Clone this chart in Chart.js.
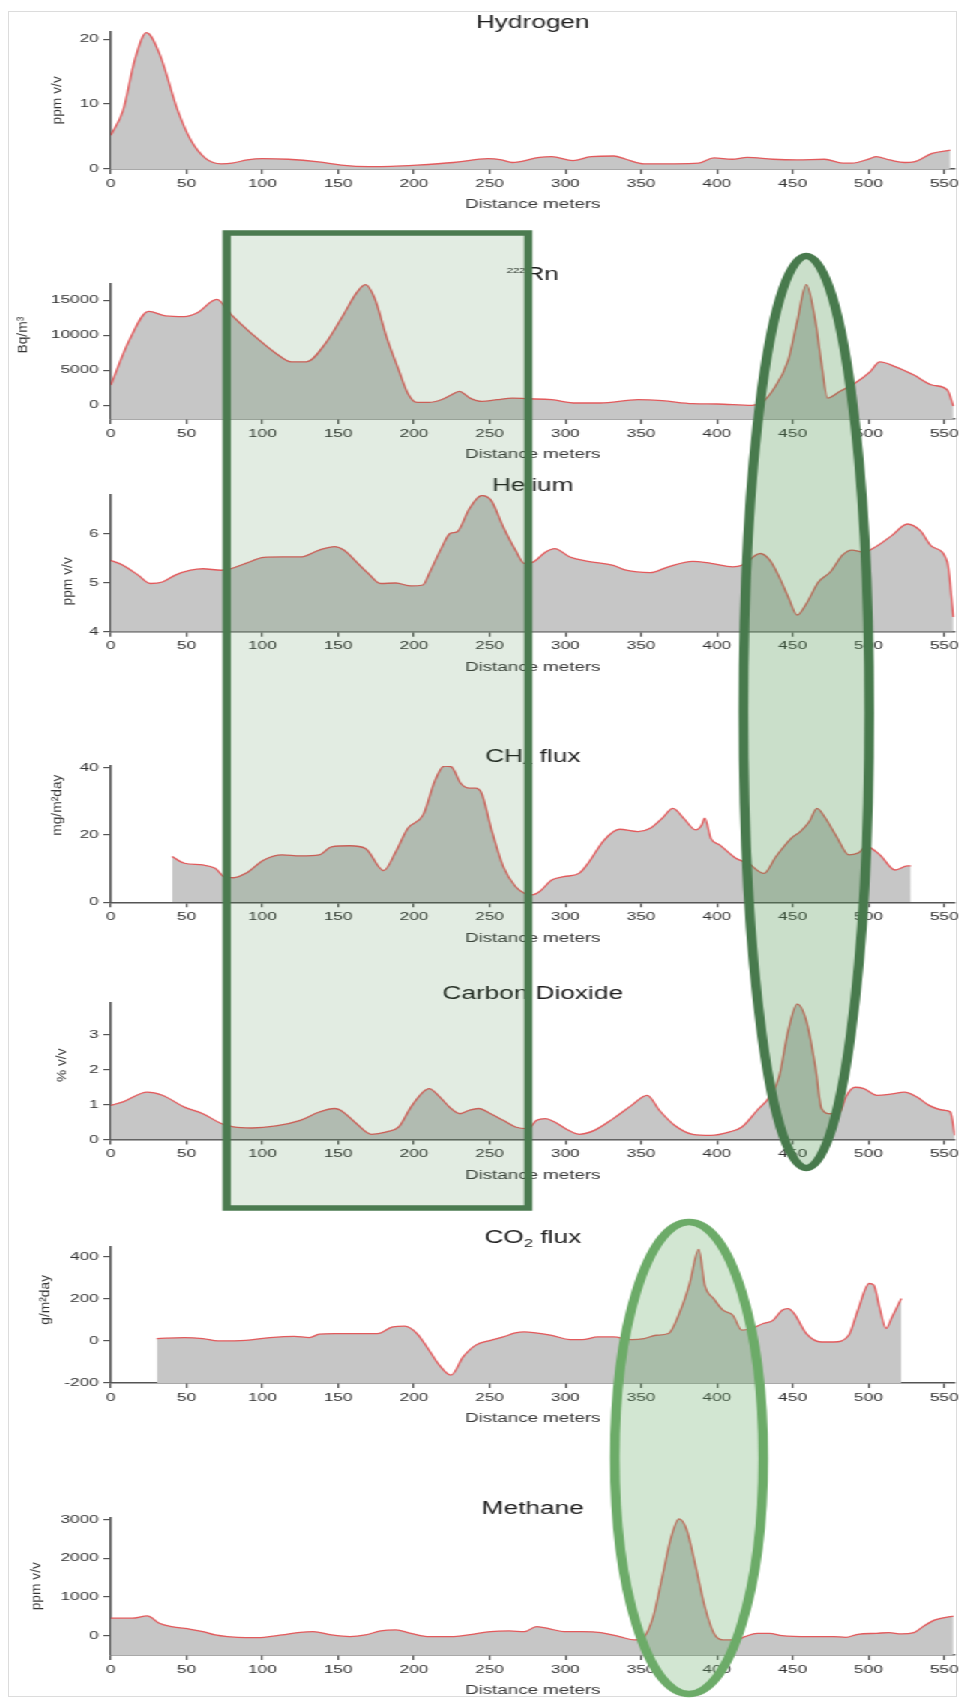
<!DOCTYPE html>
<html>
<head>
<meta charset="utf-8">
<script src="https://cdn.jsdelivr.net/npm/chart.js@4.4.1/dist/chart.umd.min.js"></script>
<style>
  html, body { margin: 0; padding: 0; background: #fff; }
  #page { position: relative; width: 961px; height: 1698px; overflow: hidden; }
  #frame { position: absolute; left: 8px; top: 11px; width: 949px; height: 1686px; border: 1px solid #dcdcdc; box-sizing: border-box; }
  /* the panels are laid out narrow and stretched sideways */
  #stretch { position: absolute; left: 0; top: 0; width: 641px; height: 1698px; transform: scaleX(1.49922); transform-origin: 0 0; }
  #stretch canvas { position: absolute; left: 0; }
</style>
</head>
<body>
<div id="page"><div id="frame"></div><div id="stretch"></div></div>
<script>
const distTicks = [0, 50, 100, 150, 200, 250, 300, 350, 400, 450, 500, 550];

// Hydrogen, ppm v/v
const h2Dist = [0, 8, 16, 23.5, 32, 44, 52.6, 62.7, 72.8, 80, 90, 100, 117, 137, 152, 170, 185, 202, 226, 249, 258, 265, 283, 291, 305, 317, 332, 340, 352, 372, 388, 398, 410, 420, 437, 453, 471, 483, 489, 501, 505, 514, 524, 530, 542, 554];
const h2Ppm = [5.2, 9.0, 17.0, 21.0, 17.8, 9.1, 4.5, 1.6, 0.8, 0.9, 1.4, 1.6, 1.5, 1.1, 0.6, 0.36, 0.4, 0.6, 1.0, 1.6, 1.4, 1.0, 1.8, 1.9, 1.3, 1.9, 2.0, 1.5, 0.8, 0.8, 0.9, 1.7, 1.5, 1.8, 1.5, 1.4, 1.5, 0.9, 0.9, 1.6, 1.9, 1.4, 1.0, 1.1, 2.4, 2.9];
const h2Ticks = [0, 10, 20];

// 222Rn, Bq/m3
const rnDist = [0, 12, 25, 36, 48.5, 57, 70, 79, 93, 109, 119, 129, 141.5, 153.7, 162, 168, 174, 182, 190, 196, 202, 210, 218, 224, 230, 237, 245, 255, 265, 275, 291, 307, 323, 348, 364, 384, 400, 423, 429, 437, 447, 453, 459, 465, 469, 473, 481, 491, 501, 507.5, 518, 530, 542, 552, 556];
const rnBq = [2900, 9200, 13400, 12750, 12650, 13200, 15100, 13000, 10200, 7400, 6200, 6200, 8800, 13000, 16000, 17200, 15300, 9700, 5000, 1700, 420, 420, 800, 1400, 2000, 1030, 560, 800, 1030, 940, 800, 330, 330, 800, 660, 230, 190, 0, 330, 2200, 6400, 12000, 17200, 12000, 5950, 1030, 1970, 3140, 4780, 6190, 5490, 4310, 2900, 2200, -100];
const rnTicks = [0, 5000, 10000, 15000];

// Helium, ppm v/v
const heDist = [0, 8, 18, 26, 34, 42.5, 52.6, 60.7, 72.8, 79, 89, 101, 113, 125, 137.5, 147.6, 153.7, 162, 170, 178, 188, 198, 206, 210, 218, 224, 228.5, 236.6, 244.7, 251, 259, 267, 273, 279, 287, 293, 303, 315, 331.6, 340, 356, 368, 384, 396, 410.5, 416.5, 428.7, 435, 441, 447, 453, 459, 467, 475, 483, 489, 497, 505, 515.6, 525.7, 534, 542, 552, 556];
const hePpm = [5.45, 5.35, 5.15, 4.98, 5.01, 5.15, 5.25, 5.28, 5.25, 5.28, 5.39, 5.51, 5.52, 5.52, 5.66, 5.73, 5.66, 5.42, 5.18, 4.98, 4.99, 4.93, 4.95, 5.18, 5.69, 6.0, 6.03, 6.5, 6.77, 6.67, 6.13, 5.66, 5.39, 5.42, 5.62, 5.69, 5.52, 5.43, 5.35, 5.25, 5.2, 5.32, 5.43, 5.39, 5.32, 5.35, 5.59, 5.45, 5.12, 4.71, 4.34, 4.57, 5.01, 5.22, 5.56, 5.66, 5.62, 5.73, 5.96, 6.19, 6.06, 5.73, 5.42, 4.3];
const heTicks = [4, 5, 6];

// CH4 flux, mg/m2 day
const ch4FluxDist = [40.4, 48.5, 60.7, 68.8, 75, 81, 89, 101, 113, 125, 137.5, 145.6, 157.7, 168, 180, 188, 196, 206, 214, 220, 224.5, 231, 236.6, 240.6, 244.7, 251, 259, 267, 273, 278, 283, 291, 299, 309, 315, 325.6, 335.7, 348, 356, 364, 371, 378, 386, 390, 392, 396, 402, 412.5, 420.6, 431, 439, 449, 455, 461, 466, 471, 479, 487, 493, 499, 507.5, 517.6, 525.7, 528];
const ch4Flux = [13.6, 11.6, 11.1, 10.1, 7.6, 7.3, 8.6, 12.6, 14.1, 13.8, 14.1, 16.5, 16.8, 16.0, 9.4, 15.0, 22, 25.9, 36.3, 40.5, 40.3, 35.3, 33.9, 33.9, 32.4, 22, 10.6, 4.7, 2.7, 2.2, 3.2, 6.6, 7.6, 8.6, 11.6, 18.5, 21.7, 21, 22, 25, 27.9, 25, 21.5, 23, 25, 19, 17, 13.1, 11.6, 8.6, 13.6, 19, 21, 24, 27.9, 25.4, 19.5, 14.1, 14.6, 16.5, 14.1, 9.6, 10.8, 10.8];
const ch4FluxTicks = [0, 20, 40];

// Carbon dioxide, % v/v
const co2Dist = [0, 8, 24, 34, 48.5, 60.7, 72.8, 81, 93, 109, 125, 137.5, 147.6, 151.6, 162, 172, 182, 190, 198, 206, 210, 216, 224.5, 230.5, 236.6, 242.6, 250.7, 259, 267, 275, 281, 287, 293, 301, 309, 319.5, 331.6, 343.7, 354, 362, 372, 384, 396, 408.5, 416.5, 426.6, 434.7, 441, 447, 453, 459, 465, 469, 475, 481, 485, 491, 497, 505.5, 515.6, 523.7, 532, 540, 550, 554, 557];
const co2Pct = [0.98, 1.08, 1.36, 1.27, 0.93, 0.74, 0.46, 0.36, 0.33, 0.39, 0.55, 0.79, 0.89, 0.84, 0.46, 0.15, 0.22, 0.36, 0.93, 1.36, 1.46, 1.27, 0.89, 0.74, 0.84, 0.89, 0.74, 0.55, 0.36, 0.31, 0.55, 0.6, 0.5, 0.29, 0.15, 0.27, 0.6, 0.98, 1.27, 0.84, 0.41, 0.15, 0.12, 0.22, 0.36, 0.84, 1.22, 1.79, 3.12, 3.89, 3.41, 2.08, 0.89, 0.74, 0.79, 1.22, 1.5, 1.46, 1.27, 1.31, 1.36, 1.22, 0.98, 0.84, 0.79, 0.12];
const co2Ticks = [0, 1, 2, 3];

// CO2 flux, g/m2 day
const co2FluxDist = [30.3, 48.5, 60.7, 70.8, 89, 105, 121, 131, 137.5, 147.6, 162, 176, 186, 194, 202, 210, 216, 224.5, 232.5, 240.6, 250.7, 259, 267, 273, 279, 291, 303, 311, 321.5, 331.6, 343.7, 352, 360, 368, 376, 382, 388, 392, 398, 404, 410.5, 416.5, 422.6, 430.6, 437, 443, 447, 451, 459, 469, 477, 487, 493, 500.5, 503.5, 507.5, 511.6, 515.6, 521.7];
const co2Flux = [11, 16, 11, 0, 3, 16, 22, 16, 32, 35, 35, 35, 67, 70, 35, -44, -108, -163, -76, -21, 3, 19, 38, 43, 40, 27, 6, 6, 19, 19, 6, 11, 27, 35, 146, 273, 435, 265, 200, 146, 122, 51, 59, 83, 98, 146, 154, 130, 35, -5, -5, 27, 146, 273, 265, 154, 59, 114, 202];
const co2FluxTicks = [-200, 0, 200, 400];

// Methane, ppm v/v
const ch4Dist = [0, 14, 24, 32, 40, 52.6, 60.7, 68.8, 77, 89, 101, 113, 125, 133.5, 145.6, 157.7, 168, 178, 188, 198, 210, 226.5, 238.6, 250.7, 263, 273, 281, 291, 299, 311, 323.5, 335.7, 345.8, 352, 358, 364, 370, 375, 380, 386, 392, 398, 404, 412.5, 418.5, 426.6, 434.7, 443, 461, 477, 485, 493, 505.5, 513.6, 521.7, 530, 536, 544, 554, 556];
const ch4Ppm = [450, 450, 510, 320, 233, 164, 104, 17, -26, -52, -43, 17, 86, 104, 17, -26, 17, 121, 147, 60, -26, -26, 35, 104, 121, 104, 233, 164, 104, 104, 78, -26, -112, -26, 493, 1530, 2567, 3016, 2740, 1790, 752, 60, -112, -112, -26, 60, 60, 0, -26, -26, -43, 35, 60, 78, 43, 78, 233, 406, 493, 500];
const ch4Ticks = [0, 1000, 2000, 3000];

const FONT = '"Liberation Sans", Arial, Helvetica, sans-serif';
Chart.defaults.font.family = FONT;

const pts = (xs, ys) => xs.map((x, i) => ({ x, y: ys[i] }));

// top/bottom = page y of the axis ends, unitX = page x of the rotated unit label
const panels = [
  { title: [{ t: 'Hydrogen' }], unit: 'ppm v/v', unitX: 58, unitShift: 0, dist: h2Dist, vals: h2Ppm, ticks: h2Ticks, min: 0, max: 21.15, top: 31.7, bottom: 169 },
  { title: [{ t: '222', sup: true }, { t: 'Rn' }], unit: 'Bq/m³', unitX: 23, unitShift: -16, dist: rnDist, vals: rnBq, ticks: rnTicks, min: -1950, max: 17400, top: 283.3, bottom: 419 },
  { title: [{ t: 'Helium' }], unit: 'ppm v/v', unitX: 68, unitShift: 18, dist: heDist, vals: hePpm, ticks: heTicks, min: 4, max: 6.78, top: 495, bottom: 631.7 },
  { title: [{ t: 'CH' }, { t: '4', sub: true }, { t: ' flux' }], unit: 'mg/m²day', unitX: 57, unitShift: -29, dist: ch4FluxDist, vals: ch4Flux, ticks: ch4FluxTicks, min: 0, max: 40.5, top: 766, bottom: 902.3 },
  { title: [{ t: 'Carbon Dioxide' }], unit: '% v/v', unitX: 62, unitShift: -6, dist: co2Dist, vals: co2Pct, ticks: co2Ticks, min: 0, max: 3.92, top: 1003, bottom: 1139.5 },
  { title: [{ t: 'CO' }, { t: '2', sub: true }, { t: ' flux' }], unit: 'g/m²day', unitX: 45, unitShift: -15, dist: co2FluxDist, vals: co2Flux, ticks: co2FluxTicks, min: -200, max: 448, top: 1246.7, bottom: 1383 },
  { title: [{ t: 'Methane' }], unit: 'ppm v/v', unitX: 37, unitShift: 0, dist: ch4Dist, vals: ch4Ppm, ticks: ch4Ticks, min: -500, max: 3050, top: 1517.5, bottom: 1655 }
];

const SCALE_X = 1.49922;

// panel title, x axis name and rotated unit label
const panelText = {
  id: 'panelText',
  afterDraw(chart, args, opts) {
    const { ctx, chartArea: a } = chart;
    const cx = (a.left + a.right) / 2;
    ctx.save();
    ctx.fillStyle = '#1e1e1e';
    ctx.textBaseline = 'alphabetic';
    ctx.textAlign = 'left';
    let w = 0;
    const parts = opts.title.map(p => {
      const size = p.sup ? 7.5 : p.sub ? 11 : 17.5;
      ctx.font = size + 'px ' + FONT;
      const m = ctx.measureText(p.t).width;
      w += m;
      return { ...p, size, m };
    });
    let x = cx - w / 2;
    const base = a.top - 10 + 6.2;
    parts.forEach(p => {
      ctx.font = p.size + 'px ' + FONT;
      const dy = p.sup ? -7 : p.sub ? 4 : 0;
      ctx.fillText(p.t, x, base + dy);
      x += p.m;
    });

    ctx.fillStyle = '#3a3a3a';
    ctx.textAlign = 'center';
    ctx.textBaseline = 'middle';
    ctx.font = '12.5px ' + FONT;
    ctx.fillText('Distance meters', cx, a.bottom + 36);

    ctx.fillStyle = '#333';
    ctx.translate(opts.unitX / SCALE_X, (a.top + a.bottom) / 2 + opts.unitShift);
    ctx.rotate(-Math.PI / 2);
    ctx.scale(1.45, 1);
    ctx.font = '9.5px ' + FONT;
    ctx.fillText(opts.unit, 0, 0);
    ctx.restore();
  }
};

const stretch = document.getElementById('stretch');
const WIDTH = 641;
const PLOT_LEFT = 74;
const X_MAX = 557;
const PLOT_RIGHT = 636.8;

const axisGrid = { drawOnChartArea: false, drawTicks: true, tickLength: 5, color: '#555', lineWidth: 1.2 };
const axisBorder = { color: '#555', width: 1.5 };
const tickFont = { family: FONT, size: 11.5 };

const charts = panels.map(p => {
  const canvas = document.createElement('canvas');
  const top = Math.round(p.top - 34);
  const h = Math.ceil(p.bottom - top + 46);
  canvas.width = WIDTH;
  canvas.height = h;
  canvas.style.top = top + 'px';
  stretch.appendChild(canvas);
  const plotBottom = p.bottom - top;

  return new Chart(canvas, {
    type: 'line',
    data: {
      datasets: [{
        data: pts(p.dist, p.vals),
        borderColor: '#e25a5c',
        borderWidth: 1.3,
        backgroundColor: '#c6c6c6',
        fill: 'start',
        pointRadius: 0,
        cubicInterpolationMode: 'monotone'
      }]
    },
    options: {
      responsive: false,
      animation: false,
      events: [],
      layout: { padding: { top: p.top - top, right: WIDTH - PLOT_RIGHT, left: 0, bottom: 0 } },
      plugins: {
        legend: { display: false },
        tooltip: { enabled: false },
        panelText: { title: p.title, unit: p.unit, unitX: p.unitX, unitShift: p.unitShift }
      },
      scales: {
        x: {
          type: 'linear',
          min: 0,
          max: X_MAX,
          afterBuildTicks: s => { s.ticks = distTicks.map(v => ({ value: v })); },
          afterFit: s => { s.height = h - plotBottom; s.paddingLeft = 0; s.paddingRight = 0; },
          grid: axisGrid,
          border: axisBorder,
          ticks: { font: tickFont, color: '#333', padding: 2.5, maxRotation: 0, autoSkip: false, callback: v => String(v) }
        },
        y: {
          min: p.min,
          max: p.max,
          afterBuildTicks: s => { s.ticks = p.ticks.map(v => ({ value: v })); },
          afterFit: s => { s.width = PLOT_LEFT; },
          grid: axisGrid,
          border: axisBorder,
          ticks: { font: tickFont, color: '#333', padding: 3, autoSkip: false, callback: v => String(v) }
        }
      }
    },
    plugins: [panelText]
  });
});

// highlighted zones drawn across the panels
const overlay = document.createElement('canvas');
overlay.width = WIDTH;
overlay.height = 1698;
overlay.style.top = '0px';
stretch.appendChild(overlay);
const octx = overlay.getContext('2d');
const xs = charts[0].scales.x;

const zoneFrom = 76.4, zoneTo = 275.5;
const x0 = xs.getPixelForValue(zoneFrom), x1 = xs.getPixelForValue(zoneTo);
octx.fillStyle = 'rgba(62,128,62,0.15)';
octx.fillRect(x0, 233, x1 - x0, 1208 - 233);
octx.strokeStyle = '#4b7b50';
octx.lineWidth = 5.5;
octx.strokeRect(x0, 233, x1 - x0, 1208 - 233);

function ring(center, halfWidth, yTop, yBottom, fill, stroke) {
  const cx = xs.getPixelForValue(center);
  const rx = xs.getPixelForValue(center + halfWidth) - cx;
  octx.beginPath();
  octx.ellipse(cx, (yTop + yBottom) / 2, rx, (yBottom - yTop) / 2, 0, 0, Math.PI * 2);
  octx.fillStyle = fill;
  octx.fill();
  octx.strokeStyle = stroke;
  octx.lineWidth = 6.5;
  octx.stroke();
}
ring(459, 41.5, 256, 1168, 'rgba(80,150,80,0.3)', '#487a4d');
ring(381.6, 49, 1222, 1694, 'rgba(95,165,95,0.28)', '#6cab68');
</script>
</body>
</html>
